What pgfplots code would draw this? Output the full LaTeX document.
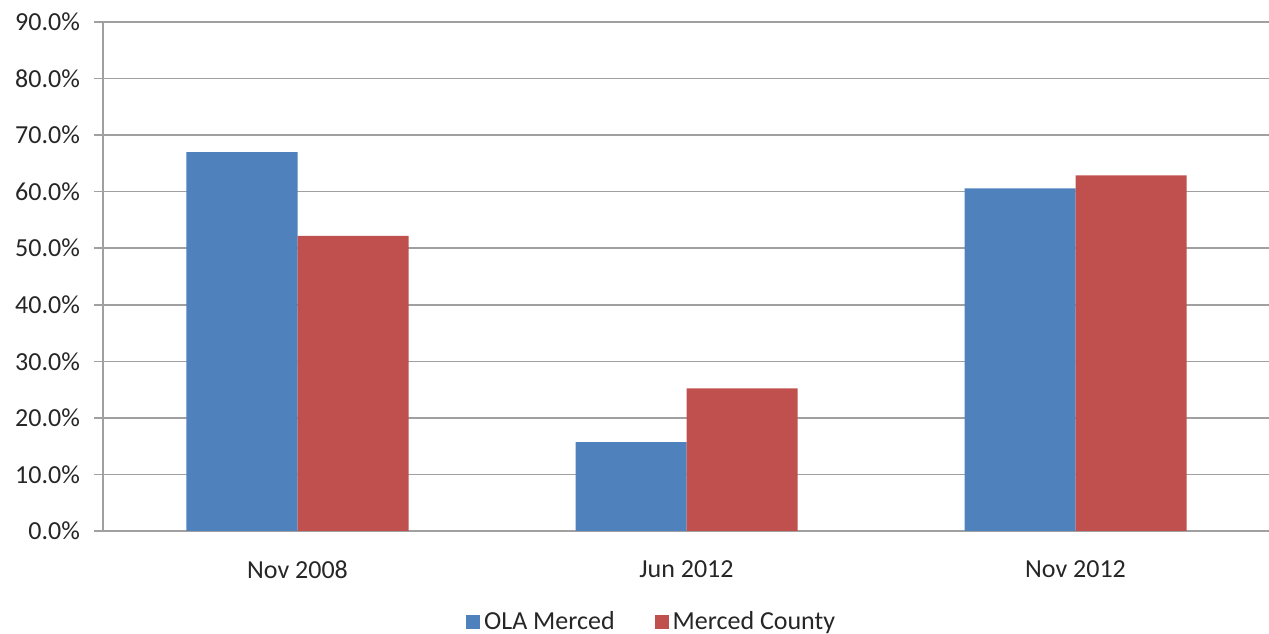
\documentclass[border=0pt]{standalone}
\usepackage{pgfplots}
\pgfplotsset{compat=1.18}
\usepackage{fontspec}
\setmainfont{Carlito}
\definecolor{olablue}{HTML}{4F81BD}
\definecolor{mcred}{HTML}{C0504D}
\definecolor{gridgray}{HTML}{A0A0A0}
\pgfplotsset{ybar legend/.style={legend image code/.code={\fill[##1] (0pt,-3.5pt) rectangle (7pt,3.5pt);}}}
\begin{document}
\begin{tikzpicture}
\begin{axis}[
  name=ax,
  scale only axis,
  width=583.5pt, height=254.5pt,
  xmin=-0.5, xmax=2.5, ymin=0, ymax=90,
  ybar=0pt, bar width=55.5pt,
  axis lines*=left,
  axis line style={draw=gridgray, line width=0.8pt},
  ymajorgrids, grid style={gridgray, line width=0.8pt},
  ytick={0,10,...,90},
  xtick={0,1,2}, xticklabels={Nov 2008, Jun 2012, Nov 2012},
  tick align=outside,
  major tick length=4.5pt,
  xtick style={draw=none},
  ytick style={draw=gridgray, line width=0.8pt},
  extra x ticks={-0.5,0.5,1.5,2.5},
  extra x tick labels={},
  extra x tick style={draw=gridgray, line width=0.8pt, grid=none},
  yticklabel={\pgfmathprintnumber[fixed,fixed zerofill,precision=1]{\tick}\%},
  /pgf/number format/assume math mode=true,
  tick label style={font=\fontsize{13}{15}\selectfont, text=black!85},
  xticklabel style={yshift=-7pt},
  yticklabel style={xshift=-3.5pt},
  legend style={at={(0.471,-0.179)}, anchor=center, draw=none, legend columns=2,
    font=\fontsize{13}{15}\selectfont, text=black!85,
    /tikz/every even column/.append style={column sep=18pt}},
]
\addplot[fill=olablue, draw=none] coordinates {(0,67.0) (1,15.7) (2,60.6)};
\addplot[fill=mcred, draw=none] coordinates {(0,52.2) (1,25.2) (2,62.9)};
\legend{OLA Merced, Merced County}
\end{axis}
\pgfresetboundingbox
\path ([xshift=-51.5pt,yshift=-51.5pt]ax.south west) rectangle ([xshift=-0.5pt,yshift=11pt]ax.north east);
\end{tikzpicture}
\end{document}
